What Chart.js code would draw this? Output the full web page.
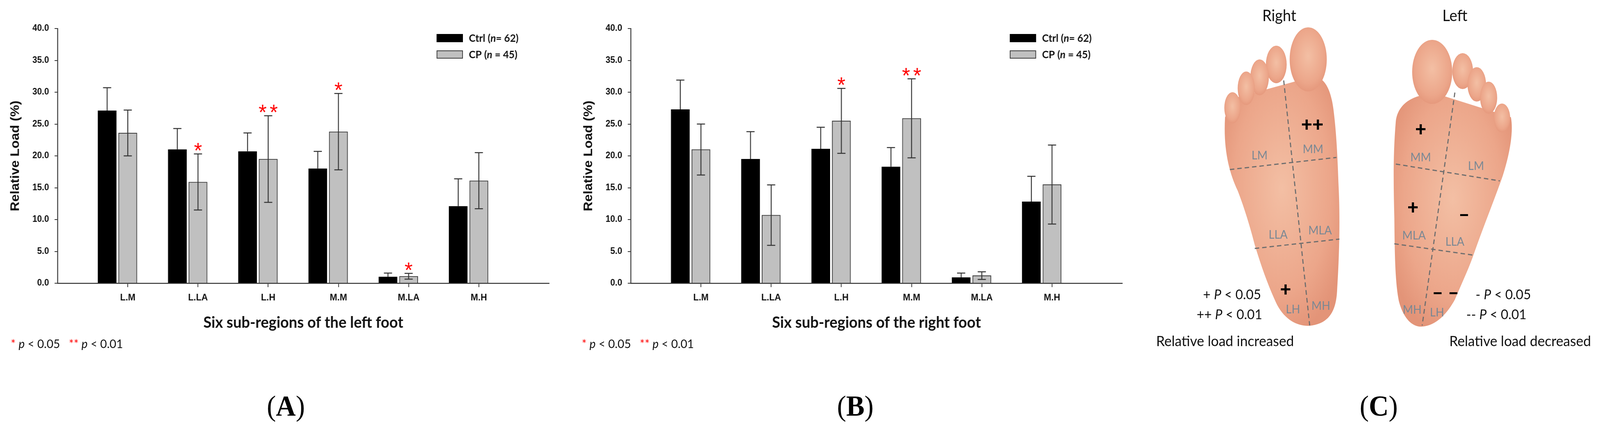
<!DOCTYPE html>
<html>
<head>
<meta charset="utf-8">
<script src="https://cdn.jsdelivr.net/npm/chart.js@4.4.1/dist/chart.umd.min.js"></script>
<style>
  html, body { margin: 0; padding: 0; background: #fff; overflow: hidden; }
  #page { position: relative; width: 4310px; height: 1093px; overflow: hidden; font-family: Lato, 'Noto Sans', sans-serif; transform-origin: 0 0; }
  .cv { position: absolute; top: 0; width: 1540px; height: 1000px; }
  .note { position: absolute; font-size: 31px; line-height: 1; color: #111; white-space: nowrap; }
  .note .r { color: #f00; }
  .plab { position: absolute; font-family: 'Liberation Serif', 'Times New Roman', serif; font-size: 74px; line-height: 1; transform: translate(-50%, -50%); }
  #footC { position: absolute; left: 3000px; top: 0; }
</style>
</head>
<body>
<div id="page">
  <div class="cv" style="left:0"><canvas id="chartA" width="1540" height="1000"></canvas></div>
  <div class="cv" style="left:1544px"><canvas id="chartB" width="1540" height="1000"></canvas></div>

  <div class="note" style="left:29px;top:864px"><span class="r">*</span> <i>p</i> &lt; 0.05 &nbsp; <span class="r">**</span> <i>p</i> &lt; 0.01</div>
  <div class="note" style="left:1567px;top:864px"><span class="r">*</span> <i>p</i> &lt; 0.05 &nbsp; <span class="r">**</span> <i>p</i> &lt; 0.01</div>

  <div class="plab" style="left:770px;top:1039px">(<b>A</b>)</div>
  <div class="plab" style="left:2304px;top:1039px">(<b>B</b>)</div>
  <div class="plab" style="left:3714px;top:1039px">(<b>C</b>)</div>

  <svg id="footC" width="1310" height="1093" viewBox="3000 0 1310 1093">
    <defs>
      <radialGradient id="skin" cx="50%" cy="45%" r="60%">
        <stop offset="0%" stop-color="#f3bfa4"/>
        <stop offset="70%" stop-color="#eca68a"/>
        <stop offset="100%" stop-color="#e39478"/>
      </radialGradient>
    </defs>
    <g fill="url(#skin)">
      <!-- right foot -->
      <path d="M3300 300 C3295 380 3310 440 3334 488 C3355 540 3370 590 3380 627 C3400 690 3420 740 3440 780 C3465 825 3505 838 3535 833 C3585 825 3600 790 3602 740 C3608 650 3610 560 3606 480 C3603 400 3600 340 3592 280 C3585 230 3570 200 3540 195 L3330 250 Z"/>
      <ellipse cx="3524" cy="152" rx="50" ry="82"/>
      <ellipse cx="3438" cy="165" rx="28" ry="48"/>
      <ellipse cx="3393" cy="198" rx="25" ry="46"/>
      <ellipse cx="3357" cy="226" rx="23" ry="43"/>
      <ellipse cx="3320" cy="276" rx="22" ry="40"/>
      <!-- left foot -->
      <path d="M3760 310 C3752 400 3754 480 3756 558 C3757 650 3758 720 3768 770 C3780 815 3805 838 3830 836 C3870 834 3900 800 3919 767 C3940 720 3960 680 3972 645 C4000 570 4030 500 4048 450 C4065 400 4078 340 4070 300 L3870 240 C3800 240 3765 270 3760 310 Z"/>
      <ellipse cx="3858" cy="184" rx="54" ry="82"/>
      <ellipse cx="3940" cy="182" rx="28" ry="46"/>
      <ellipse cx="3978" cy="216" rx="25" ry="44"/>
      <ellipse cx="4010" cy="250" rx="23" ry="41"/>
      <ellipse cx="4046" cy="302" rx="22" ry="37"/>
    </g>
    <g stroke="#6e6e6e" stroke-width="3" stroke-dasharray="12 8" fill="none">
      <line x1="3458" y1="206" x2="3528" y2="833"/>
      <line x1="3313" y1="434" x2="3600" y2="403"/>
      <line x1="3380" y1="636" x2="3608" y2="612"/>
      <line x1="3919" y1="237" x2="3831" y2="833"/>
      <line x1="3760" y1="420" x2="4040" y2="463"/>
      <line x1="3756" y1="624" x2="3968" y2="653"/>
    </g>
    <g font-family="Lato, sans-serif" font-size="30" fill="#7a8894" text-anchor="middle" dominant-baseline="central">
      <text x="3393" y="396">LM</text>
      <text x="3537" y="380">MM</text>
      <text x="3443" y="599">LLA</text>
      <text x="3556" y="588">MLA</text>
      <text x="3483" y="790">LH</text>
      <text x="3558" y="781">MH</text>
      <text x="3827" y="401">MM</text>
      <text x="3976" y="423">LM</text>
      <text x="3809" y="601">MLA</text>
      <text x="3919" y="617">LLA</text>
      <text x="3804" y="791">MH</text>
      <text x="3871" y="798">LH</text>
    </g>
    <g font-family="Lato, sans-serif" font-weight="900" font-size="52" fill="#000" text-anchor="middle" dominant-baseline="central">
      <text x="3535" y="316">++</text>
      <text x="3463" y="738">+</text>
      <text x="3827" y="328">+</text>
      <text x="3806" y="528">+</text>
      <text x="3944" y="546">–</text>
      <text x="3894" y="746">– –</text>
    </g>
    <g font-family="Lato, sans-serif" fill="#111" dominant-baseline="central">
      <text x="3446" y="38" font-size="40" text-anchor="middle">Right</text>
      <text x="3919" y="38" font-size="40" text-anchor="middle">Left</text>
      <text x="3397" y="752" font-size="35" text-anchor="end">+ <tspan font-style="italic">P</tspan> &lt; 0.05</text>
      <text x="3400" y="803" font-size="35" text-anchor="end">++ <tspan font-style="italic">P</tspan> &lt; 0.01</text>
      <text x="3300" y="872" font-size="37" text-anchor="middle">Relative load increased</text>
      <text x="3975" y="752" font-size="35">- <tspan font-style="italic">P</tspan> &lt; 0.05</text>
      <text x="3950" y="803" font-size="35">-- <tspan font-style="italic">P</tspan> &lt; 0.01</text>
      <text x="4095" y="872" font-size="37" text-anchor="middle">Relative load decreased</text>
    </g>
  </svg>
</div>

<script>
// the figure is laid out at 4310 px wide; squeeze it to whatever the window gives
const page = document.getElementById('page');
page.style.transform = 'scaleX(' + (window.innerWidth / 4310) + ')';

// six plantar sub-regions
const categories = ['L.M', 'L.LA', 'L.H', 'M.M', 'M.LA', 'M.H'];
const seriesNames = ['Ctrl (n= 62)', 'CP (n = 45)'];

// left foot, mean and SD of relative load (%)
const ctrlLeft = [27.1, 21.0, 20.7, 18.0, 1.0, 12.1];
const ctrlLeftSd = [3.6, 3.3, 2.9, 2.7, 0.6, 4.3];
const cpLeft = [23.6, 15.9, 19.5, 23.8, 1.1, 16.1];
const cpLeftSd = [3.6, 4.4, 6.8, 6.0, 0.45, 4.4];
const sigLeft = ['', '*', '**', '*', '*', ''];

// right foot
const ctrlRight = [27.3, 19.5, 21.1, 18.3, 0.9, 12.8];
const ctrlRightSd = [4.6, 4.3, 3.4, 3.0, 0.7, 4.0];
const cpRight = [21.0, 10.7, 25.5, 25.9, 1.2, 15.5];
const cpRightSd = [4.0, 4.75, 5.1, 6.2, 0.6, 6.2];
const sigRight = ['', '', '*', '**', '', ''];

const yMin = 0, yMax = 40, yStep = 5;

Chart.defaults.font.family = "'Liberation Sans', Arial, sans-serif";
Chart.defaults.color = '#111';

const CTRL_SHIFT = 0.294; // black bar sits left of the tick

// SD whiskers and significance stars
const errorBars = {
  id: 'errorBars',
  afterDatasetsDraw(chart) {
    const ctx = chart.ctx;
    const ys = chart.scales.y;
    chart.data.datasets.forEach((ds, di) => {
      const meta = chart.getDatasetMeta(di);
      meta.data.forEach((bar, i) => {
        const v = ds.data[i].y, sd = ds.errors[i];
        const yTop = ys.getPixelForValue(v + sd);
        const yBot = ds.lowerError ? ys.getPixelForValue(v - sd) : bar.y;
        ctx.save();
        ctx.strokeStyle = '#333';
        ctx.lineWidth = 2.5;
        ctx.beginPath();
        ctx.moveTo(bar.x, yBot); ctx.lineTo(bar.x, yTop);
        ctx.moveTo(bar.x - 11, yTop); ctx.lineTo(bar.x + 11, yTop);
        if (ds.lowerError) { ctx.moveTo(bar.x - 11, yBot); ctx.lineTo(bar.x + 11, yBot); }
        ctx.stroke();
        const s = ds.sig ? ds.sig[i] : '';
        if (s) {
          ctx.fillStyle = '#ff0000';
          ctx.font = "56px 'Liberation Sans', Arial";
          ctx.textAlign = 'center';
          ctx.textBaseline = 'alphabetic';
          for (let k = 0; k < s.length; k++) {
            const sx = bar.x + (k - (s.length - 1) / 2) * 30;
            ctx.fillText('*', sx, yTop + 10);
          }
        }
        ctx.restore();
      });
    });
  }
};

// legend sits inside the plot, top right
const insideLegend = {
  id: 'insideLegend',
  afterDraw(chart) {
    const { ctx, chartArea } = chart;
    const x0 = chartArea.right - 303, y0 = chartArea.top + 14;
    chart.data.datasets.forEach((ds, i) => {
      const top = y0 + i * 42;
      ctx.save();
      ctx.fillStyle = ds.backgroundColor;
      ctx.fillRect(x0, top, 71, 21);
      ctx.strokeStyle = ds.borderColor;
      ctx.lineWidth = 2;
      ctx.strokeRect(x0 + 1, top + 1, 69, 19);
      const m = ds.label.match(/^(.*\()n(.*)$/);
      let tx = x0 + 87;
      const ty = top + 11;
      ctx.fillStyle = '#111';
      ctx.textBaseline = 'middle';
      ctx.font = 'bold 27px Lato';
      ctx.fillText(m[1], tx, ty); tx += ctx.measureText(m[1]).width;
      ctx.font = 'italic bold 27px Lato';
      ctx.fillText('n', tx, ty); tx += ctx.measureText('n').width;
      ctx.font = 'bold 27px Lato';
      ctx.fillText(m[2], tx, ty);
      ctx.restore();
    });
  }
};

function makeChart(id, ctrl, ctrlSd, cp, cpSd, sig, xTitle) {
  return new Chart(document.getElementById(id), {
    type: 'bar',
    data: {
      datasets: [
        {
          label: seriesNames[0],
          data: ctrl.map((v, i) => ({ x: i + 1 - CTRL_SHIFT, y: v })),
          errors: ctrlSd,
          lowerError: false,
          backgroundColor: '#000000',
          borderColor: '#000000',
          borderWidth: 1
        },
        {
          label: seriesNames[1],
          data: cp.map((v, i) => ({ x: i + 1, y: v })),
          errors: cpSd,
          lowerError: true,
          sig: sig,
          backgroundColor: '#c0c0c0',
          borderColor: '#3a3a3a',
          borderWidth: 2
        }
      ]
    },
    options: {
      responsive: false,
      devicePixelRatio: 1,
      animation: false,
      grouped: false,
      barThickness: 50,
      layout: { padding: { left: 0, top: 73, right: 61, bottom: 150 } },
      plugins: { legend: { display: false }, tooltip: { enabled: false } },
      scales: {
        x: {
          type: 'linear',
          offset: false,
          min: 0,
          max: categories.length + 1,
          afterBuildTicks: s => { s.ticks = categories.map((c, i) => ({ value: i + 1 })); },
          afterFit: s => { s.height = 125; },
          ticks: {
            autoSkip: false, maxRotation: 0, padding: 13,
            font: { size: 24, weight: 'bold' },
            callback: v => categories[Math.round(v) - 1]
          },
          grid: { drawOnChartArea: false, offset: false, tickLength: 10, color: '#333', lineWidth: 2 },
          border: { color: '#333', width: 2.5 },
          title: {
            display: true, text: xTitle, color: '#111',
            font: { family: 'Lato', size: 40, weight: 'bold' },
            padding: { top: 0, bottom: 0 }
          }
        },
        y: {
          min: yMin, max: yMax,
          afterFit: s => { s.width = 155; },
          ticks: {
            stepSize: yStep, padding: 15,
            font: { size: 23, weight: 'bold' },
            callback: v => v.toFixed(1)
          },
          grid: { drawOnChartArea: false, tickLength: 8, color: '#333', lineWidth: 2 },
          border: { color: '#333', width: 2.5 },
          title: {
            display: true, text: 'Relative Load (%)', color: '#111',
            font: { size: 34, weight: 'bold' },
            padding: { top: 21, bottom: 0 }
          }
        }
      }
    },
    plugins: [errorBars, insideLegend]
  });
}

makeChart('chartA', ctrlLeft, ctrlLeftSd, cpLeft, cpLeftSd, sigLeft, 'Six sub-regions of the left foot');
makeChart('chartB', ctrlRight, ctrlRightSd, cpRight, cpRightSd, sigRight, 'Six sub-regions of the right foot');
</script>
</body>
</html>
